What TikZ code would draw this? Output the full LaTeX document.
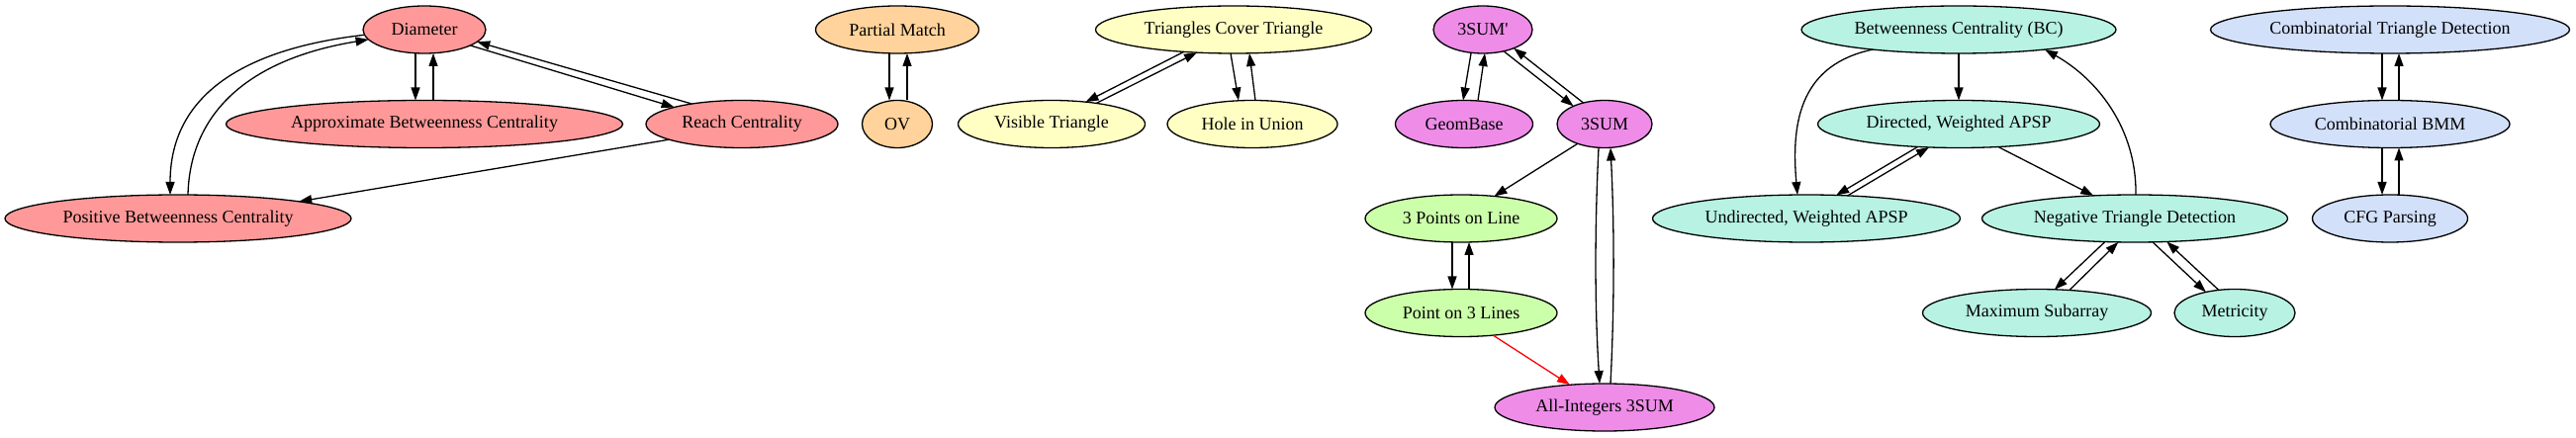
\documentclass[tikz,border=0pt]{standalone}
\usepackage{fontspec}
\setmainfont{Liberation Serif}
\usetikzlibrary{arrows.meta,shapes.geometric}
\definecolor{cred}{RGB}{255,153,153}
\definecolor{corange}{RGB}{255,211,155}
\definecolor{cyellow}{RGB}{255,255,196}
\definecolor{cmag}{RGB}{238,140,232}
\definecolor{cgreen}{RGB}{204,255,170}
\definecolor{ccyan}{RGB}{183,242,226}
\definecolor{cblue}{RGB}{210,224,250}
\begin{document}
\begin{tikzpicture}[x=1pt,y=-1pt,
  nd/.style={ellipse,draw=black,line width=1.3pt,inner sep=0pt,outer sep=0pt,minimum height=48pt,font=\fontsize{18}{21}\selectfont},
  e/.style={line width=1.3pt,-{Triangle[length=13pt,width=9pt]}}]
\useasboundingbox (0,0) rectangle (2604,443);
% red group
\node[nd,fill=cred,minimum width=124pt] (diam) at (429,30) {Diameter};
\node[nd,fill=cred,minimum width=401pt] (apbc) at (429,125.5) {Approximate Betweenness Centrality};
\node[nd,fill=cred,minimum width=194pt] (reach) at (750,125.5) {Reach Centrality};
\node[nd,fill=cred,minimum width=350pt] (posbc) at (180,221) {Positive Betweenness Centrality};
% orange
\node[nd,fill=corange,minimum width=165pt] (pm) at (907,30) {Partial Match};
\node[nd,fill=corange,minimum width=71pt] (ov) at (907,125.5) {OV};
% yellow
\node[nd,fill=cyellow,minimum width=279pt] (tct) at (1247,30) {Triangles Cover Triangle};
\node[nd,fill=cyellow,minimum width=189pt] (vt) at (1063,125.5) {Visible Triangle};
\node[nd,fill=cyellow,minimum width=172pt] (hu) at (1266,125.5) {Hole in Union};
% magenta / green
\node[nd,fill=cmag,minimum width=100pt] (ssump) at (1499,30) {3SUM\textquotesingle};
\node[nd,fill=cmag,minimum width=139pt] (gb) at (1480,125.5) {GeomBase};
\node[nd,fill=cmag,minimum width=96pt] (ssum) at (1622,125.5) {3SUM};
\node[nd,fill=cgreen,minimum width=194pt] (tpl) at (1477,221) {3 Points on Line};
\node[nd,fill=cgreen,minimum width=194pt] (pol) at (1477,316.5) {Point on 3 Lines};
\node[nd,fill=cmag,minimum width=222pt] (ai) at (1622,412) {All-Integers 3SUM};
% cyan
\node[nd,fill=ccyan,minimum width=318pt] (bc) at (1980,30) {Betweenness Centrality (BC)};
\node[nd,fill=ccyan,minimum width=285pt] (dwa) at (1980,125.5) {Directed, Weighted APSP};
\node[nd,fill=ccyan,minimum width=311pt] (uwa) at (1826,221) {Undirected, Weighted APSP};
\node[nd,fill=ccyan,minimum width=309pt] (ntd) at (2158,221) {Negative Triangle Detection};
\node[nd,fill=ccyan,minimum width=231pt] (ms) at (2059,316.5) {Maximum Subarray};
\node[nd,fill=ccyan,minimum width=122pt] (met) at (2259,316.5) {Metricity};
% blue
\node[nd,fill=cblue,minimum width=363pt] (ctd) at (2416,30) {Combinatorial Triangle Detection};
\node[nd,fill=cblue,minimum width=242pt] (bmm) at (2416,125.5) {Combinatorial BMM};
\node[nd,fill=cblue,minimum width=157pt] (cfg) at (2416,221) {CFG Parsing};
% red edges
\draw[e] ([xshift=-9pt]diam.south) -- ([xshift=-9pt]apbc.north);
\draw[e] ([xshift=9pt]apbc.north) -- ([xshift=9pt]diam.south);
\draw[e] (reach.158) -- (diam.-13);
\draw[e] (diam.-19) -- (reach.166);
\draw[e] (diam.185) .. controls (240,50) and (172,100) .. ([xshift=-8pt]posbc.north);
\draw[e] ([xshift=10pt]posbc.north) .. controls (192,115) and (250,60) .. (diam.190);
\draw[e] (reach.192) -- (posbc.8);
% orange edges
\draw[e] ([xshift=-8pt]pm.south) -- ([xshift=-8pt]ov.north);
\draw[e] ([xshift=10pt]ov.north) -- ([xshift=10pt]pm.south);
% yellow edges
\draw[e] (tct.204) -- (vt.33);
\draw[e] (vt.25) -- (tct.212);
\draw[e] ([xshift=-3pt]tct.south) -- ([xshift=-14pt]hu.north);
\draw[e] ([xshift=3pt]hu.north) -- ([xshift=16pt]tct.south);
% magenta / green edges
\draw[e] ([xshift=-12pt]ssump.south) -- ([xshift=-1pt]gb.north);
\draw[e] ([xshift=14pt]gb.north) -- ([xshift=2pt]ssump.south);
\draw[e] (ssump.-46) -- (ssum.150);
\draw[e] (ssum.135) -- (ssump.-31);
\draw[e] (ssum.216) -- (tpl.34);
\draw[e] ([xshift=-9pt]tpl.south) -- ([xshift=-9pt]pol.north);
\draw[e] ([xshift=8pt]pol.north) -- ([xshift=8pt]tpl.south);
\draw[e,red] (pol.-35) -- (ai.147);
\draw[e] ([xshift=-6pt]ssum.south) .. controls (1612,230) and (1612,310) .. ([xshift=-5pt]ai.north);
\draw[e] ([xshift=6pt]ai.north) .. controls (1632,310) and (1632,230) .. ([xshift=6pt]ssum.south);
% cyan edges
\draw[e] (bc.south) -- (dwa.north);
\draw[e] (bc.193) .. controls (1822,65) and (1810,120) .. ([xshift=-9pt]uwa.north);
\draw[e] (dwa.209) -- (uwa.38);
\draw[e] (uwa.29) -- (dwa.218);
\draw[e] (dwa.-30) -- (ntd.151);
\draw[e] ([xshift=1pt]ntd.north) .. controls (2160,130) and (2120,80) .. (bc.-13);
\draw[e] (ntd.218) -- (ms.53);
\draw[e] (ms.35) -- (ntd.235);
\draw[e] (ntd.-53) -- (met.144);
\draw[e] (met.125) -- (ntd.-36);
% blue edges
\draw[e] ([xshift=-8pt]ctd.south) -- ([xshift=-8pt]bmm.north);
\draw[e] ([xshift=9pt]bmm.north) -- ([xshift=9pt]ctd.south);
\draw[e] ([xshift=-8pt]bmm.south) -- ([xshift=-8pt]cfg.north);
\draw[e] ([xshift=9pt]cfg.north) -- ([xshift=9pt]bmm.south);
\end{tikzpicture}
\end{document}
